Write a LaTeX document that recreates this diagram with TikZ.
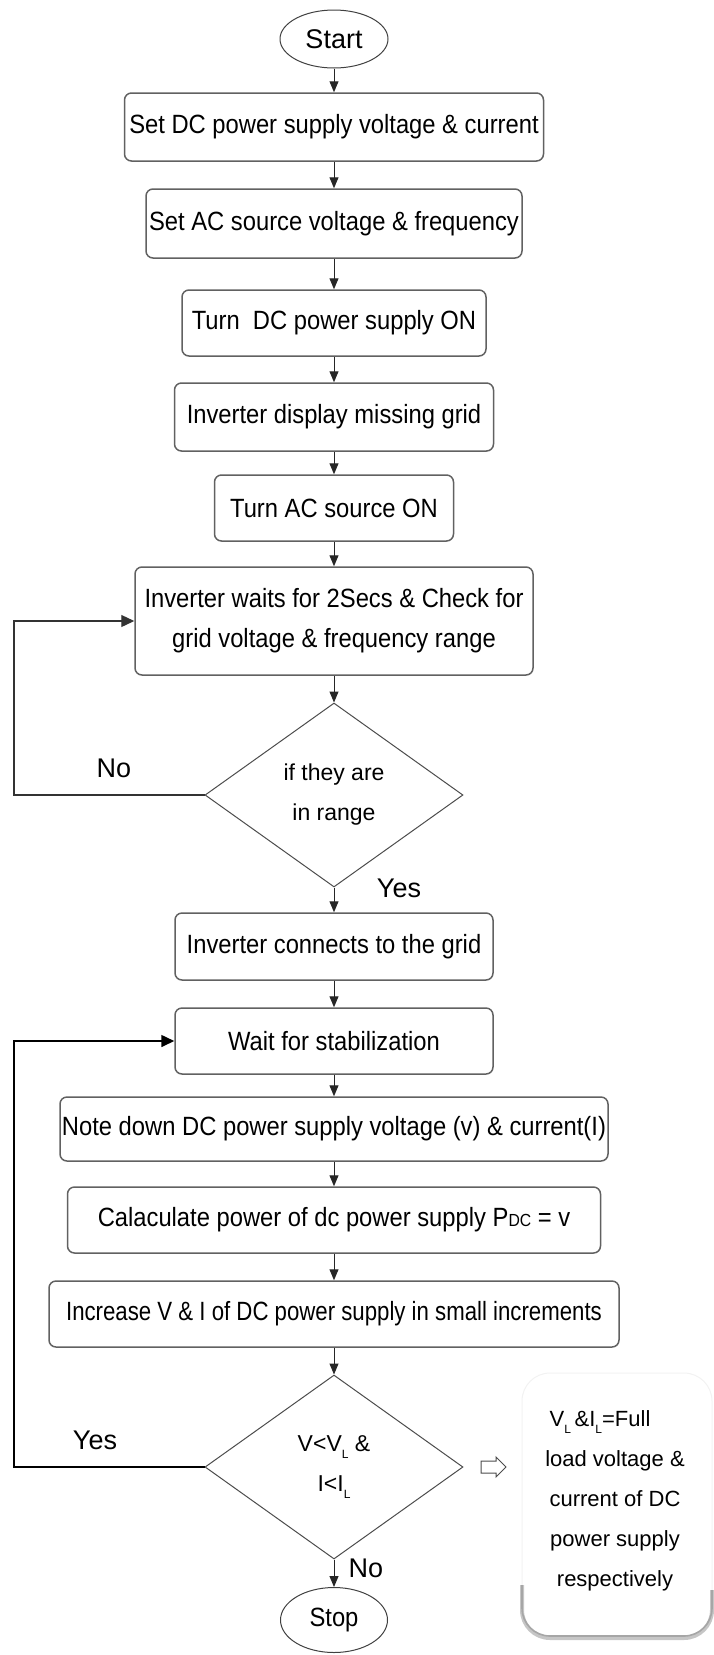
\documentclass[tikz,border=0pt]{standalone}
\usepackage{fontspec}
\usepackage{graphicx}
\setmainfont{Liberation Sans}
\newfontfamily\narrowfont{Liberation Sans}[FakeStretch=0.9]
\usetikzlibrary{shapes.geometric,arrows.meta}
\newcommand{\boxfont}{\narrowfont\fontsize{26.4pt}{40pt}\selectfont}
\newcommand{\dfont}{\fontsize{23pt}{40pt}\selectfont}
\newcommand{\lblfont}{\fontsize{27pt}{30pt}\selectfont}
\newcommand{\notefont}{\fontsize{22pt}{40pt}\selectfont}
\newcommand{\subL}{\raisebox{-7pt}{\fontsize{12pt}{12pt}\selectfont L}}
\begin{document}
\begin{tikzpicture}[x=1pt,y=-1pt,
  stepbox/.style={draw=black!62, line width=1.5pt, rounded corners=7pt, inner sep=0pt, align=center, font=\boxfont, fill=white},
  decision/.style={diamond, draw=black!70, line width=1pt, inner sep=0pt, align=center, font=\dfont, minimum width=258pt, minimum height=184pt},
  terminal/.style={ellipse, draw=black!75, line width=1pt, inner sep=0pt},
  flow/.style={draw=black!85, line width=1pt, -{Triangle[length=11pt,width=9pt]}},
  loopa/.style={draw=black!80, line width=1.3pt, -{Triangle[length=13pt,width=12pt]}},
  loopb/.style={draw=black, line width=1.6pt, -{Triangle[length=13pt,width=12pt]}},
  lbl/.style={font=\lblfont, inner sep=0pt}
]
\useasboundingbox (0,0) rectangle (713,1655);

% nodes
\node[terminal, minimum width=108pt, minimum height=58pt, font=\fontsize{27pt}{30pt}\selectfont] (start) at (334,39) {Start};
\node[stepbox, minimum width=419pt, minimum height=68pt] (b1) at (334,127) {Set DC power supply voltage \& current};
\node[stepbox, minimum width=376pt, minimum height=69pt] (b2) at (334,223.5) {Set AC source voltage \& frequency};
\node[stepbox, minimum width=304pt, minimum height=66pt] (b3) at (334,323) {Turn\ \ DC power supply ON};
\node[stepbox, minimum width=319pt, minimum height=68pt] (b4) at (334,417) {Inverter display missing grid};
\node[stepbox, minimum width=239pt, minimum height=66pt] (b5) at (334,508) {Turn AC source ON};
\node[stepbox, minimum width=398pt, minimum height=108pt] (b6) at (334,621) {Inverter waits for 2Secs \& Check for\\grid voltage \& frequency range};
\node[decision] (d1) at (334,795) {if they are\\in range};
\node[stepbox, minimum width=318pt, minimum height=67pt] (b7) at (334,946.5) {Inverter connects to the grid};
\node[stepbox, minimum width=318pt, minimum height=66pt] (b8) at (334,1041) {Wait for stabilization};
\node[stepbox, minimum width=548pt, minimum height=64pt] (b9) at (334,1129) {Note down DC power supply voltage (v) \& current(I)};
\node[stepbox, minimum width=533pt, minimum height=66pt] (b10) at (334,1220) {Calaculate power of dc power supply P{\fontsize{17.5pt}{17.5pt}\selectfont DC} = v};
\node[stepbox, minimum width=570pt, minimum height=66pt] (b11) at (334,1314) {\scalebox{0.935}[1]{Increase V \& I of DC power supply in small increments}};
\node[decision] (d2) at (334,1467) {V<V\subL\ \&\\I<I\subL};
\node[terminal, minimum width=107pt, minimum height=65pt, font=\boxfont] (stop) at (334,1620) {Stop};

% labels
\node[lbl] (yes1) at (399,888) {Yes};
\node[lbl] (no1) at (114,768) {No};
\node[lbl] (yes2) at (95,1440) {Yes};
\node[lbl] (no2) at (366,1568) {No};

% connectors
\draw[flow] (start.south) -- (b1.north);
\draw[flow] (b1.south) -- (b2.north);
\draw[flow] (b2.south) -- (b3.north);
\draw[flow] (b3.south) -- (b4.north);
\draw[flow] (b4.south) -- (b5.north);
\draw[flow] (b5.south) -- (b6.north);
\draw[flow] (b6.south) -- (d1.north);
\draw[flow] (d1.south) -- (b7.north);
\draw[flow] (b7.south) -- (b8.north);
\draw[flow] (b8.south) -- (b9.north);
\draw[flow] (b9.south) -- (b10.north);
\draw[flow] (b10.south) -- (b11.north);
\draw[flow] (b11.south) -- (d2.north);
\draw[flow] (d2.south) -- (stop.north);

\coordinate (c1) at (14,795);
\coordinate (c2) at (14,1467);
\draw[loopa] (d1.west) -- (c1) |- (b6.west);
\draw[loopb] (d2.west) -- (c2) |- (b8.west);

% note box
\draw[gray!10, line width=1pt, rounded corners=28pt] (522,1373) rectangle (712,1638);
\draw[gray!45, line width=4pt, rounded corners=28pt] (522,1585) -- (522,1638) -- (712,1638) -- (712,1590);
\draw[gray!70, line width=1.6pt, rounded corners=28pt] (522,1585) -- (522,1636) -- (712,1636) -- (712,1590);
\node[font=\notefont, align=center, inner sep=0pt] (note) at (615,1501) {V\subL\,\&I\subL=Full\hspace*{30pt}\\load voltage \&\\current of DC\\power supply\\respectively};

% hollow arrow
\draw[black!70, line width=1pt] (481,1461) -- (496,1461) -- (496,1457) -- (506,1467) -- (496,1477) -- (496,1473) -- (481,1473) -- cycle;
\end{tikzpicture}
\end{document}
